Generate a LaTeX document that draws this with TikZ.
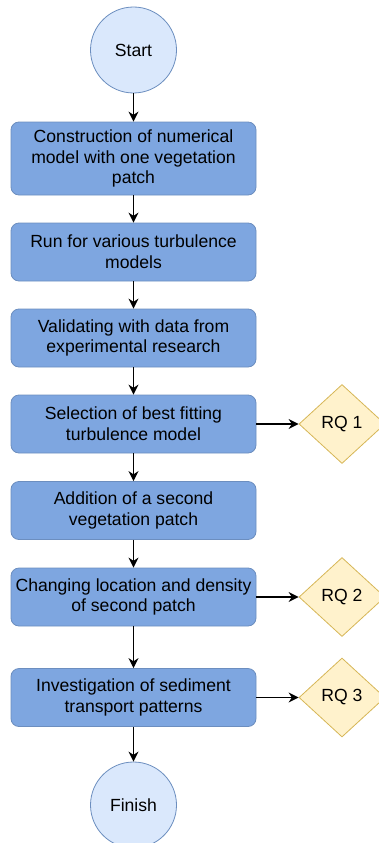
\documentclass[tikz,border=0pt]{standalone}
\usepackage{fontspec}
\setmainfont{Liberation Sans}
\usetikzlibrary{shapes.geometric,arrows.meta}

\definecolor{boxfill}{HTML}{7EA6E0}
\definecolor{boxline}{HTML}{6C8EBF}
\definecolor{endfill}{HTML}{DAE8FC}
\definecolor{rqfill}{HTML}{FFF2CC}
\definecolor{rqline}{HTML}{D6B656}

\tikzset{
  stepbox/.style={draw=boxline, fill=boxfill, rounded corners=8pt, line width=0.8pt,
    minimum width=245pt, align=center, inner sep=0pt,
    font=\fontsize{17.6}{20.8}\selectfont},
  terminal/.style={circle, draw=boxline, fill=endfill, line width=0.8pt,
    minimum size=86pt, inner sep=0pt, font=\fontsize{17.6}{20.8}\selectfont},
  rq/.style={diamond, draw=rqline, fill=rqfill, line width=0.8pt,
    minimum width=86pt, minimum height=79pt, inner sep=0pt,
    font=\fontsize{17.6}{20.8}\selectfont},
  flow/.style={-{Stealth[length=10pt,width=10pt]}, line width=1.2pt, black}
}

\begin{document}
\begin{tikzpicture}[x=1pt,y=-1pt]
\useasboundingbox (0,0) rectangle (378,843);

\node[terminal] (start) at (133.5,50) {Start};
\node[stepbox, minimum height=73pt] (build) at (133.5,158.5) {Construction of numerical\\model with one vegetation\\patch};
\node[stepbox, minimum height=58pt] (run) at (133.5,252) {Run for various turbulence\\models};
\node[stepbox, minimum height=58pt] (valid) at (133.5,338) {Validating with data from\\experimental research};
\node[stepbox, minimum height=58pt] (select) at (133.5,424) {Selection of best fitting\\turbulence model};
\node[stepbox, minimum height=58pt] (second) at (133.5,510.5) {Addition of a second\\vegetation patch};
\node[stepbox, minimum height=58pt] (change) at (133.5,597) {Changing location and density\\of second patch};
\node[stepbox, minimum height=58pt] (sediment) at (133.5,697.5) {Investigation of sediment\\transport patterns};
\node[terminal] (finish) at (133.5,805) {Finish};

\node[rq] (rq1) at (342,424) {RQ 1};
\node[rq] (rq2) at (342,597) {RQ 2};
\node[rq] (rq3) at (342,697.5) {RQ 3};

\draw[flow] (start) -- (build);
\draw[flow] (build) -- (run);
\draw[flow] (run) -- (valid);
\draw[flow] (valid) -- (select);
\draw[flow] (select) -- (second);
\draw[flow] (second) -- (change);
\draw[flow] (change) -- (sediment);
\draw[flow] (sediment) -- (finish);

\draw[flow] (select) -- (rq1);
\draw[flow] (change) -- (rq2);
\draw[flow] (sediment) -- (rq3);
\end{tikzpicture}
\end{document}
